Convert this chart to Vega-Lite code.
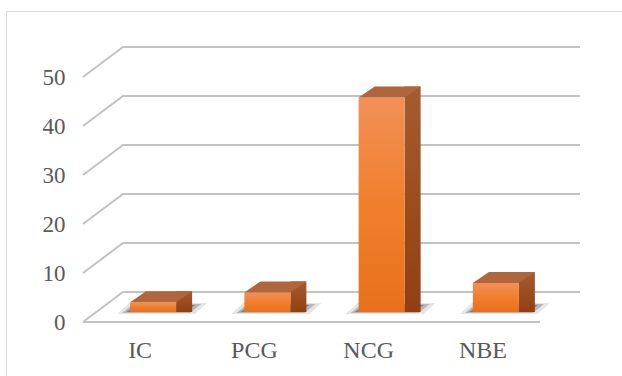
{
  "$schema": "https://vega.github.io/schema/vega-lite/v6.json",
  "width": 616,
  "height": 365,
  "autosize": {"type": "none"},
  "padding": {"left": 6, "top": 11, "right": 0, "bottom": 0},
  "background": "white",
  "config": {"view": {"stroke": "#d9d9d9", "strokeWidth": 1, "strokeDash": [616, 981, 366, 0]}, "font": "Liberation Serif"},
  "datasets": {
    "grid": [{"v": 0}, {"v": 10}, {"v": 20}, {"v": 30}, {"v": 40}, {"v": 50}],
    "floor": [{"v": 0}],
    "bars": [
      {"cat": "IC", "v": 2},
      {"cat": "PCG", "v": 4},
      {"cat": "NCG", "v": 43.8},
      {"cat": "NBE", "v": 5.9}
    ]
  },
  "layer": [
    {
      "data": {"name": "grid"},
      "mark": {"type": "point", "shape": "M0,0L40,-30L497,-30", "size": 4, "filled": false, "stroke": "#c2c2c2", "strokeWidth": 2, "opacity": 1},
      "encoding": {
        "x": {"datum": "IC", "bandPosition": 0, "type": "nominal", "scale": {"type": "band", "domain": ["IC", "PCG", "NCG", "NBE"], "range": [77, 534], "paddingInner": 0, "paddingOuter": 0},
          "axis": {"orient": "bottom", "domain": false, "ticks": false, "grid": false, "labelPadding": -38, "labelAngle": 0, "labelFont": "Liberation Serif", "labelFontSize": 24, "labelColor": "#595959", "title": null}},
        "y": {"field": "v", "type": "quantitative", "scale": {"domain": [0, 50], "range": [311, 66], "nice": false},
          "axis": {"orient": "left", "domain": false, "ticks": false, "grid": false, "labelPadding": -59, "labelFont": "Liberation Serif", "labelFontSize": 23, "labelColor": "#595959", "title": null, "values": [0, 10, 20, 30, 40, 50]}}
      }
    },
    {
      "data": {"name": "floor"},
      "mark": {"type": "point", "shape": "M0,0L457,0", "size": 4, "filled": false, "stroke": "#c2c2c2", "strokeWidth": 2, "opacity": 1},
      "encoding": {
        "x": {"datum": "IC", "bandPosition": 0, "type": "nominal",
          "axis": {"orient": "bottom", "domain": false, "ticks": false, "grid": false, "labelPadding": -38, "labelAngle": 0, "labelFont": "Liberation Serif", "labelFontSize": 24, "labelColor": "#595959", "title": null}},
        "y": {"field": "v", "type": "quantitative",
          "axis": {"orient": "left", "domain": false, "ticks": false, "grid": false, "labelPadding": -59, "labelFont": "Liberation Serif", "labelFontSize": 23, "labelColor": "#595959", "title": null, "values": [0, 10, 20, 30, 40, 50]}}
      }
    },
    {
      "data": {"name": "bars"},
      "mark": {"type": "point", "shape": "M-36,2L42,2L54,-9L-24,-9Z", "size": 4, "filled": true, "fill": "#000000", "opacity": 0.1, "xOffset": 13, "yOffset": -10},
      "encoding": {
        "x": {"field": "cat", "type": "nominal",
          "axis": {"orient": "bottom", "domain": false, "ticks": false, "grid": false, "labelPadding": -38, "labelAngle": 0, "labelFont": "Liberation Serif", "labelFontSize": 24, "labelColor": "#595959", "title": null}},
        "y": {"datum": 0, "type": "quantitative",
          "axis": {"orient": "left", "domain": false, "ticks": false, "grid": false, "labelPadding": -59, "labelFont": "Liberation Serif", "labelFontSize": 23, "labelColor": "#595959", "title": null, "values": [0, 10, 20, 30, 40, 50]}}
      }
    },
    {
      "data": {"name": "bars"},
      "mark": {"type": "point", "shape": "M-31,1L37,1L48,-8L-20,-8Z", "size": 4, "filled": true, "fill": "#000000", "opacity": 0.2, "xOffset": 13, "yOffset": -10},
      "encoding": {
        "x": {"field": "cat", "type": "nominal",
          "axis": {"orient": "bottom", "domain": false, "ticks": false, "grid": false, "labelPadding": -38, "labelAngle": 0, "labelFont": "Liberation Serif", "labelFontSize": 24, "labelColor": "#595959", "title": null}},
        "y": {"datum": 0, "type": "quantitative",
          "axis": {"orient": "left", "domain": false, "ticks": false, "grid": false, "labelPadding": -59, "labelFont": "Liberation Serif", "labelFontSize": 23, "labelColor": "#595959", "title": null, "values": [0, 10, 20, 30, 40, 50]}}
      }
    },
    {
      "data": {"name": "bars"},
      "mark": {"type": "point", "shape": "M-27,0L32,0L42,-7L-17,-7Z", "size": 4, "filled": true, "fill": "#000000", "opacity": 0.3, "xOffset": 13, "yOffset": -10},
      "encoding": {
        "x": {"field": "cat", "type": "nominal",
          "axis": {"orient": "bottom", "domain": false, "ticks": false, "grid": false, "labelPadding": -38, "labelAngle": 0, "labelFont": "Liberation Serif", "labelFontSize": 24, "labelColor": "#595959", "title": null}},
        "y": {"datum": 0, "type": "quantitative",
          "axis": {"orient": "left", "domain": false, "ticks": false, "grid": false, "labelPadding": -59, "labelFont": "Liberation Serif", "labelFontSize": 23, "labelColor": "#595959", "title": null, "values": [0, 10, 20, 30, 40, 50]}}
      }
    },
    {
      "data": {"name": "bars"},
      "mark": {"type": "bar", "width": 16, "xOffset": 44, "yOffset": -21, "y2Offset": -10,
        "color": {"gradient": "linear", "x1": 0, "y1": 0, "x2": 0, "y2": 1, "stops": [{"offset": 0, "color": "#a45c30"}, {"offset": 1, "color": "#923f10"}]}},
      "encoding": {
        "x": {"field": "cat", "type": "nominal",
          "axis": {"orient": "bottom", "domain": false, "ticks": false, "grid": false, "labelPadding": -38, "labelAngle": 0, "labelFont": "Liberation Serif", "labelFontSize": 24, "labelColor": "#595959", "title": null}},
        "y": {"field": "v", "type": "quantitative",
          "axis": {"orient": "left", "domain": false, "ticks": false, "grid": false, "labelPadding": -59, "labelFont": "Liberation Serif", "labelFontSize": 23, "labelColor": "#595959", "title": null, "values": [0, 10, 20, 30, 40, 50]}},
        "y2": {"datum": 0}
      }
    },
    {
      "data": {"name": "bars"},
      "mark": {"type": "bar", "width": 46, "xOffset": 13, "yOffset": -10, "y2Offset": -10,
        "color": {"gradient": "linear", "x1": 0, "y1": 0, "x2": 0, "y2": 1, "stops": [{"offset": 0, "color": "#f29058"}, {"offset": 0.5, "color": "#f07f2b"}, {"offset": 1, "color": "#e8701c"}]}},
      "encoding": {
        "x": {"field": "cat", "type": "nominal",
          "axis": {"orient": "bottom", "domain": false, "ticks": false, "grid": false, "labelPadding": -38, "labelAngle": 0, "labelFont": "Liberation Serif", "labelFontSize": 24, "labelColor": "#595959", "title": null}},
        "y": {"field": "v", "type": "quantitative",
          "axis": {"orient": "left", "domain": false, "ticks": false, "grid": false, "labelPadding": -59, "labelFont": "Liberation Serif", "labelFontSize": 23, "labelColor": "#595959", "title": null, "values": [0, 10, 20, 30, 40, 50]}},
        "y2": {"datum": 0}
      }
    },
    {
      "data": {"name": "bars"},
      "mark": {"type": "point", "shape": "M-23,0L23,0L39,-11L-7,-11Z", "size": 4, "filled": true, "fill": "#b0663a", "opacity": 1, "xOffset": 13, "yOffset": -10},
      "encoding": {
        "x": {"field": "cat", "type": "nominal",
          "axis": {"orient": "bottom", "domain": false, "ticks": false, "grid": false, "labelPadding": -38, "labelAngle": 0, "labelFont": "Liberation Serif", "labelFontSize": 24, "labelColor": "#595959", "title": null}},
        "y": {"field": "v", "type": "quantitative",
          "axis": {"orient": "left", "domain": false, "ticks": false, "grid": false, "labelPadding": -59, "labelFont": "Liberation Serif", "labelFontSize": 23, "labelColor": "#595959", "title": null, "values": [0, 10, 20, 30, 40, 50]}}
      }
    }
  ]
}
